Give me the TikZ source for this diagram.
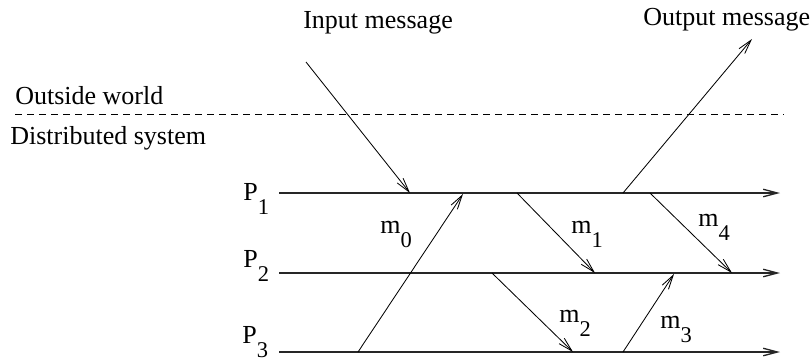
\documentclass[tikz,border=0pt]{standalone}
\usepackage{fontspec}
\setmainfont{Liberation Serif}
\usetikzlibrary{arrows.meta}
\newcommand{\lowsub}[2]{#1\raisebox{-8.6pt}{\fontsize{13.5}{13.5}\selectfont #2}}

\begin{document}
\begin{tikzpicture}[x=0.6pt, y=-0.6pt, line join=round,
  >={Straight Barb[length=8.5pt,width=4.5pt]},
  font=\fontsize{15.6}{18}\selectfont,
  txt/.style={inner sep=0pt, anchor=base west},
  proc/.style={->, line width=0.8pt, black!85},
  msg/.style={->, line width=0.5pt}]
  \useasboundingbox (0,0) rectangle (810,360);

  % 1. Ranh giới thế giới ngoài / hệ phân tán
  \node[txt] (outside) at (15,104) {Outside world};
  \node[txt] (distsys) at (10,144) {Distributed system};
  \coordinate (bndl) at (15,114);
  \coordinate (bndr) at (784,114);
  \draw[dash pattern=on 4.2pt off 3pt, line width=0.5pt] (bndl) -- (bndr);

  % 2. Các tiến trình
  \node[txt] (p1) at (243,200) {\lowsub{P}{1}};
  \node[txt] (p2) at (243,267) {\lowsub{P}{2}};
  \node[txt] (p3) at (242,343) {\lowsub{P}{3}};
  \coordinate (p1s) at (279,193); \coordinate (p1e) at (780,193);
  \coordinate (p2s) at (279,273); \coordinate (p2e) at (780,273);
  \coordinate (p3s) at (279,352); \coordinate (p3e) at (780,352);
  \draw[proc] (p1s) -- (p1e);
  \draw[proc] (p2s) -- (p2e);
  \draw[proc] (p3s) -- (p3e);

  % 3. Thông điệp vào / ra
  \node[txt] (input) at (303,28) {Input message};
  \node[txt] (output) at (643,25) {Output message};
  \coordinate (ins) at (306,62);  \coordinate (ine) at (410,193);
  \coordinate (outs) at (623,193); \coordinate (oute) at (752,39);
  \draw[msg] (ins) -- (ine);
  \draw[msg] (outs) -- (oute);

  % 4. Các thông điệp m0..m4
  \coordinate (m0s) at (358,352); \coordinate (m0e) at (463,194);
  \coordinate (m1s) at (517,193); \coordinate (m1e) at (595,273);
  \coordinate (m2s) at (492,273); \coordinate (m2e) at (573,352);
  \coordinate (m3s) at (623,352); \coordinate (m3e) at (674,274);
  \coordinate (m4s) at (650,193); \coordinate (m4e) at (732,273);
  \draw[msg] (m0s) -- (m0e);
  \draw[msg] (m1s) -- (m1e);
  \draw[msg] (m2s) -- (m2e);
  \draw[msg] (m3s) -- (m3e);
  \draw[msg] (m4s) -- (m4e);

  % 5. Nhãn thông điệp
  \node[txt] (lm0) at (380,233) {\lowsub{m}{0}};
  \node[txt] (lm1) at (571,233) {\lowsub{m}{1}};
  \node[txt] (lm2) at (559,322) {\lowsub{m}{2}};
  \node[txt] (lm3) at (660,328) {\lowsub{m}{3}};
  \node[txt] (lm4) at (698,226) {\lowsub{m}{4}};
\end{tikzpicture}
\end{document}
